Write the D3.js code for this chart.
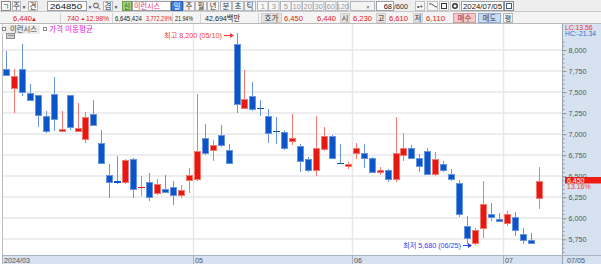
<!DOCTYPE html>
<html>
<head>
<meta charset="utf-8">
<script src="https://cdn.jsdelivr.net/npm/d3@7"></script>
<style>
html, body { margin: 0; padding: 0; background: #fff; overflow: hidden; }
svg { display: block; font-family: "Liberation Sans", "Noto Sans CJK KR", sans-serif; }
</style>
</head>
<body>
<script>
// daily candles, 2024/03/27 - 2024/07/05 (68 bars)
var dates = [
  '03/27','03/28','03/29',
  '04/01','04/02','04/03','04/04','04/05','04/08','04/09','04/11','04/12',
  '04/15','04/16','04/17','04/18','04/19','04/22','04/23','04/24','04/25','04/26','04/29','04/30',
  '05/02','05/03','05/07','05/08','05/09','05/10','05/13','05/14','05/16','05/17',
  '05/20','05/21','05/22','05/23','05/24','05/27','05/28','05/29','05/30','05/31',
  '06/03','06/04','06/05','06/07','06/10','06/11','06/12','06/13','06/14',
  '06/17','06/18','06/19','06/20','06/21','06/24','06/25','06/26','06/27','06/28',
  '07/01','07/02','07/03','07/04','07/05'
];
var opens = [
  7770,7540,7770,7490,7460,7220,7480,7030,7460,7030,6930,7240,
  6900,6520,6440,6420,6710,6360,6430,6290,6350,6370,6270,6440,
  6450,6950,6800,6990,6810,8070,7300,7450,7310,7220,
  7040,7030,6910,6860,6710,6560,6810,6980,6660,6610,
  6760,6780,6720,6540,6570,6450,6740,6840,6720,
  6800,6510,6650,6530,6420,5910,5690,5870,6050,5990,
  5930,6020,5810,5740,6230
];
var highs = [
  7990,7770,8070,7600,7470,7270,7680,7280,7470,7370,7260,7400,
  7050,6650,6740,6710,6720,6500,6540,6470,6520,6440,6390,6600,
  7480,7120,6930,7110,6880,8200,7760,7620,7400,7300,
  7200,7050,7240,6880,6730,7220,7080,6990,6880,6670,
  6900,6880,6730,6610,6590,7200,7010,6870,6760,
  6840,6790,6680,6590,6460,6030,5880,6440,6180,6060,
  6090,6070,5890,5830,6610
];
var lows = [
  7690,7250,7450,7390,7080,7010,7040,7020,7050,7020,6890,7100,
  6650,6240,6410,6410,6240,6260,6200,6280,6300,6160,6240,6300,
  6440,6750,6680,6850,6640,7250,7300,7280,7220,6900,
  6880,6810,6870,6550,6550,6500,6800,6710,6640,6590,
  6710,6600,6540,6510,6430,6430,6680,6700,6550,
  6510,6500,6550,6440,6020,5700,5680,5770,5970,5950,
  5910,5790,5690,5690,6110
];
var closes = [
  7690,7690,7490,7390,7220,7030,7170,7060,7070,7070,7200,7100,
  6650,6420,6420,6690,6340,6370,6240,6410,6300,6260,6340,6510,
  6800,6760,6870,6860,6640,7350,7420,7290,7300,7000,
  7030,6820,6950,6670,6560,6830,6980,6710,6640,6640,
  6830,6710,6540,6570,6460,6780,6840,6700,6610,
  6520,6700,6560,6450,6040,5750,5860,6170,6000,5960,
  6050,5850,5730,5700,6440
];

// axis labels
var priceTicks = [5750, 6000, 6250, 6500, 6750, 7000, 7250, 7500, 7750, 8000];
var monthDates = ['03/27', '05/02', '06/03', '07/01'];
var monthLabels = ['2024/03', '05', '06', '07'];
var lastDateLabel = '07/05';

// annotations
var hiIndex = 29, hiText = '최고 8,200 (05/10)';
var loIndex = 59, loText = '최저 5,680 (06/25)';
var tagPrice = 6450, tagText = '6,450', tagPct = '13.16%';

var W = 601, H = 264;
var RED = '#e8170f', RED_LT = '#f27a72', BLUE = '#0c55c8', BLUE_LT = '#6796e0';
var AXIS_BG = '#d6e2ef', GRID = '#e7e7e7';

var svg = d3.select('body').append('svg')
    .attr('width', W)
    .attr('height', H);

svg.append('rect').attr('width', W).attr('height', H).attr('fill', '#fff');

// ---------- header (toolbar rows) ----------
var hdr = svg.append('g').attr('class', 'header');
hdr.append('rect').attr('x', 0).attr('y', 0).attr('width', W).attr('height', 12).attr('fill', '#eeeeee');
hdr.append('rect').attr('x', 0).attr('y', 12).attr('width', W).attr('height', 12).attr('fill', '#f4f4f4');
hdr.append('line').attr('x1', 0).attr('x2', W).attr('y1', 11.5).attr('y2', 11.5).attr('stroke', '#c9c9c9');
hdr.append('line').attr('x1', 0).attr('x2', W).attr('y1', 23.5).attr('y2', 23.5).attr('stroke', '#b9b9b9');

function box(x, w, fill, stroke, y, h) {
  return hdr.append('rect')
    .attr('x', x + 0.5).attr('y', (y === undefined ? 1 : y) + 0.5)
    .attr('width', w - 1).attr('height', (h === undefined ? 10 : h) - 1)
    .attr('fill', fill).attr('stroke', stroke);
}
function label(x, y, txt, color, size, anchor, len) {
  var t = hdr.append('text')
    .attr('x', x).attr('y', y)
    .attr('font-size', size || 7.5)
    .attr('fill', color || '#222')
    .attr('text-anchor', anchor || 'start')
    .text(txt);
  if (len) t.attr('textLength', len).attr('lengthAdjust', 'spacingAndGlyphs');
  return t;
}
function btn(x, w, txt, color) {
  box(x, w, '#f7f7f7', '#b4b8be');
  label(x + w / 2, 8.8, txt, color || '#333', 7.5, 'middle');
}

// row 1
box(1, 10, '#f7f7f7', '#8a8a8a');
label(6, 8.8, 'ㄱ', '#333', 7, 'middle');
btn(12, 9, '주');
label(24, 8.5, '▼', '#555', 5, 'middle');
btn(28, 10, '견');
box(47, 40, '#ffffff', '#9aa0a8');
label(50, 9, '264850', '#111', 7.5, 'start', 32);
label(90, 8.5, '▼', '#555', 5, 'middle');
hdr.append('circle').attr('cx', 96).attr('cy', 5.5).attr('r', 2.4).attr('fill', 'none').attr('stroke', '#555');
hdr.append('line').attr('x1', 97.8).attr('y1', 7.3).attr('x2', 100).attr('y2', 9.5).attr('stroke', '#555');
btn(103, 10, '겸');
label(116, 8.5, '▼', '#555', 5, 'middle');
box(122, 10, '#9fcf7a', '#6d9e4e');
label(127, 8.8, '신', '#2f5f18', 7, 'middle');
box(132, 39, '#ffffff', '#9aa0a8');
label(134, 8.8, '이런시스', '#e0306e', 7.5, 'start', 26);
box(171, 12, '#3f7ad8', '#2c5fb4');
label(177, 8.8, '일', '#fff', 7.5, 'middle');
[['주', 183], ['월', 195], ['년', 207], ['분', 220], ['초', 232], ['틱', 244]].forEach(function(b) {
  btn(b[1], 12, b[0]);
});
[['1', 257], ['3', 268], ['5', 280], ['10', 291], ['20', 302], ['30', 313], ['60', 325], ['120', 337]].forEach(function(b) {
  btn(b[1], 11.5, b[0], '#9a9a9a');
});
box(350, 25, '#f3f3f3', '#b4b8be');
label(368, 8.5, '▼', '#888', 5, 'middle');
box(376, 18, '#ffffff', '#9aa0a8');
label(392, 9, '68', '#111', 7.5, 'end');
label(394, 9, '/600', '#333', 7.5, 'start', 14);
// small tool icons
box(415, 10, '#f7f7f7', '#c2c2c2');
label(420, 8.6, '•+', '#333', 6.5, 'middle');
box(427, 11, '#f7f7f7', '#c2c2c2');
hdr.append('path').attr('d', 'M429,4 Q431,3 433,5 T437,7').attr('fill', 'none').attr('stroke', '#555');
box(439, 10, '#f7f7f7', '#c2c2c2');
hdr.append('rect').attr('x', 441.5).attr('y', 3.5).attr('width', 5).attr('height', 5).attr('fill', 'none').attr('stroke', '#333');
box(450, 10, '#f7f7f7', '#c2c2c2');
hdr.append('circle').attr('cx', 455).attr('cy', 6).attr('r', 2.3).attr('fill', 'none').attr('stroke', '#333').attr('stroke-width', 1.4);
box(461, 43, '#ffffff', '#9aa0a8');
label(463, 9, '2024/07/05', '#111', 7.5, 'start', 39);
box(504, 10, '#f7f7f7', '#8a8a8a');
hdr.append('rect').attr('x', 506.5).attr('y', 3.5).attr('width', 5).attr('height', 5).attr('fill', '#fff').attr('stroke', '#3a5a8a');

// row 2
label(13, 21, '6,440', RED, 7.5, 'start', 19);
label(34, 20.6, '▲', RED, 6, 'middle');
label(67, 21, '740', RED, 7.5, 'start', 12);
label(83, 20.3, '▲', RED, 4.5, 'middle');
label(86, 21, '12.98%', RED, 7.5, 'start', 23);
label(115, 21, '6,645,424', '#222', 7.5, 'start', 27);
label(146, 21, '3,772.29%', RED, 7.5, 'start', 26);
label(175, 21, '21.94%', '#222', 7.5, 'start', 18);
label(205, 21, '42,694백만', '#222', 7.5, 'start', 35);
[60, 112, 172, 200, 258].forEach(function(sx) {
  hdr.append('line').attr('x1', sx + 0.5).attr('x2', sx + 0.5).attr('y1', 13).attr('y2', 23).attr('stroke', '#d4d4d4');
});
box(261, 21, '#e3e3e3', '#cfcfcf', 13, 10);
label(271.5, 21, '호가', '#333', 7.5, 'middle');
label(284, 21, '6,450', RED, 7.5, 'start', 19);
label(317, 21, '6,440', RED, 7.5, 'start', 19);
box(340, 10, '#e3e3e3', '#cfcfcf', 13, 10);
label(345, 21, '시', '#333', 7.5, 'middle');
label(353, 21, '6,230', RED, 7.5, 'start', 19);
box(376, 10, '#e3e3e3', '#cfcfcf', 13, 10);
label(381, 21, '고', '#333', 7.5, 'middle');
label(389, 21, '6,610', RED, 7.5, 'start', 19);
box(413, 10, '#e3e3e3', '#cfcfcf', 13, 10);
label(418, 21, '저', '#333', 7.5, 'middle');
label(426, 21, '6,110', RED, 7.5, 'start', 19);
box(453, 23, '#f6c9c9', '#d79a9a', 13, 10);
label(464.5, 21, '매수', '#a02828', 7.5, 'middle');
box(478, 23, '#cadcf3', '#92aed6', 13, 10);
label(489.5, 21, '매도', '#22467e', 7.5, 'middle');
box(503, 10, '#f3f3f3', '#b4b8be', 13, 10);
label(508, 21, '평', '#333', 7, 'middle');

// ---------- scales ----------
var x = d3.scaleBand().domain(dates).range([2, 542.6]).paddingInner(0).paddingOuter(0);
var y = d3.scaleLinear().domain([5750, 8000]).range([239.3, 50]);
function cx(d) { return Math.round(x(d) + x.bandwidth() / 2); }

var bars = dates.map(function(d, i) {
  return {d: d, o: opens[i], h: highs[i], l: lows[i], c: closes[i]};
});

// ---------- plot area ----------
var plot = svg.append('g').attr('class', 'plot');

// horizontal grid
plot.selectAll('line.hgrid')
  .data(priceTicks)
  .enter().append('line')
    .attr('class', 'hgrid')
    .attr('x1', 3).attr('x2', 562)
    .attr('y1', function(d) { return Math.round(y(d)); })
    .attr('y2', function(d) { return Math.round(y(d)); })
    .attr('stroke', GRID).attr('stroke-width', 1.6);

// month lines
plot.selectAll('line.vgrid')
  .data(monthDates.slice(1))
  .enter().append('line')
    .attr('class', 'vgrid')
    .attr('x1', function(d) { return Math.round(x(d)) + 0.5; })
    .attr('x2', function(d) { return Math.round(x(d)) + 0.5; })
    .attr('y1', 24).attr('y2', 255)
    .attr('stroke', GRID).attr('stroke-width', 1.4);

// left frame line
plot.append('line').attr('x1', 2.5).attr('x2', 2.5).attr('y1', 24).attr('y2', 264).attr('stroke', '#bdbdbd');

// legend row
plot.append('rect').attr('x', 1).attr('y', 25).attr('width', 39).attr('height', 9).attr('fill', '#ececec');
plot.append('rect').attr('x', 2.5).attr('y', 27.5).attr('width', 3).attr('height', 3).attr('fill', '#fff').attr('stroke', '#888');
plot.append('text').attr('x', 10).attr('y', 32.3).attr('font-size', 7.5).attr('fill', '#444')
  .attr('textLength', 27).attr('lengthAdjust', 'spacingAndGlyphs').text('이런시스');
plot.append('rect').attr('x', 43.5).attr('y', 27.5).attr('width', 3).attr('height', 3).attr('fill', '#fff').attr('stroke', '#888');
plot.append('text').attr('x', 49).attr('y', 32.3).attr('font-size', 7.5).attr('fill', '#e020d8')
  .attr('textLength', 44).attr('lengthAdjust', 'spacingAndGlyphs').text('가격 이동평균');
// grid icon
plot.append('rect').attr('x', 6.5).attr('y', 33.5).attr('width', 8).attr('height', 5).attr('fill', '#d0d0d0').attr('stroke', '#8c8c8c');
[8.5, 10.5, 12.5].forEach(function(ix) {
  plot.append('rect').attr('x', ix).attr('y', 35).attr('width', 1).attr('height', 1).attr('fill', '#555');
});

// candles
var cand = plot.selectAll('g.candle')
  .data(bars)
  .enter().append('g')
    .attr('class', 'candle');

cand.append('line')
    .attr('x1', function(d) { return cx(d.d) + 0.5; })
    .attr('x2', function(d) { return cx(d.d) + 0.5; })
    .attr('y1', function(d) { return Math.round(y(d.h)); })
    .attr('y2', function(d) { return Math.round(y(d.l)); })
    .attr('stroke', function(d) { return d.c >= d.o ? RED_LT : BLUE_LT; })
    .attr('stroke-width', 1);

function bodyTop(d) { return Math.round(y(Math.max(d.o, d.c))); }
function bodyH(d) { return Math.max(1, Math.round(y(Math.min(d.o, d.c))) - bodyTop(d)); }

cand.append('rect')
    .attr('x', function(d) { return cx(d.d) - 3; })
    .attr('y', bodyTop)
    .attr('width', 7)
    .attr('height', bodyH)
    .attr('fill', function(d) { return d.c >= d.o ? RED_LT : BLUE_LT; });

cand.filter(function(d) { return bodyH(d) > 2; }).append('rect')
    .attr('x', function(d) { return cx(d.d) - 2; })
    .attr('y', function(d) { return bodyTop(d) + 1; })
    .attr('width', 5)
    .attr('height', function(d) { return bodyH(d) - 2; })
    .attr('fill', function(d) { return d.c >= d.o ? RED : BLUE; });

cand.filter(function(d) { return bodyH(d) <= 2; }).select('rect')
    .attr('fill', function(d) { return d.c >= d.o ? RED : BLUE; });

// high / low annotations
var hb = bars[hiIndex], lb = bars[loIndex];
var hy = Math.round(y(hb.h)) + 2, ly = Math.round(y(lb.l));
plot.append('text').attr('x', cx(hb.d) - 15).attr('y', hy + 2.5)
  .attr('text-anchor', 'end').attr('font-size', 7.2).attr('fill', '#f23c3c').text(hiText);
plot.append('line').attr('x1', cx(hb.d) - 13).attr('x2', cx(hb.d) - 5)
  .attr('y1', hy + 0.5).attr('y2', hy + 0.5).attr('stroke', '#f23c3c');
plot.append('path').attr('d', 'M' + (cx(hb.d) - 3) + ',' + (hy + 0.5) + 'l-4,-2.5v5z').attr('fill', '#f23c3c');

plot.append('text').attr('x', cx(lb.d) - 14).attr('y', ly + 2.5)
  .attr('text-anchor', 'end').attr('font-size', 7.2).attr('fill', '#2f3cf0').text(loText);
plot.append('line').attr('x1', cx(lb.d) - 12).attr('x2', cx(lb.d) - 6)
  .attr('y1', ly + 0.5).attr('y2', ly + 0.5).attr('stroke', '#2f3cf0');
plot.append('path').attr('d', 'M' + (cx(lb.d) - 3) + ',' + (ly + 0.5) + 'l-4,-2.5v5z').attr('fill', '#2f3cf0');

// ---------- right price axis ----------
svg.append('rect').attr('x', 562).attr('y', 24).attr('width', W - 562).attr('height', H - 24).attr('fill', AXIS_BG);
svg.append('line').attr('x1', 562.5).attr('x2', 562.5).attr('y1', 24).attr('y2', 264).attr('stroke', '#9aa6b4');

var minorTicks = d3.range(5600, 8300, 50).filter(function(v) { return y(v) > 38 && y(v) < 254; });
svg.append('g')
    .attr('transform', 'translate(562.5,0)')
    .call(d3.axisRight(y).tickValues(minorTicks).tickSize(2).tickFormat(''))
    .call(function(g) { g.select('.domain').remove(); })
    .selectAll('line').attr('stroke', '#8f9aa8');

var yAxis = svg.append('g')
    .attr('transform', 'translate(562.5,0)')
    .call(d3.axisRight(y).tickValues(priceTicks).tickSize(4).tickPadding(2).tickFormat(d3.format(',')));
yAxis.select('.domain').remove();
yAxis.selectAll('line').attr('stroke', '#8f9aa8');
yAxis.selectAll('text').attr('font-size', 7.2).attr('fill', '#555').attr('font-family', 'Liberation Sans, sans-serif');

svg.append('text').attr('x', 565).attr('y', 29.5).attr('font-size', 6.8).attr('fill', '#f03030').text('LC:13.56');
svg.append('text').attr('x', 565).attr('y', 35.5).attr('font-size', 6.8).attr('fill', '#2d6fd6').text('HC:-21.34');

// last price tag
var ty = Math.round(y(tagPrice));
svg.append('rect').attr('x', 565).attr('y', ty - 3).attr('width', W - 565).attr('height', 6.5).attr('fill', '#ee1c12');
svg.append('text').attr('x', 567).attr('y', ty + 2.6).attr('font-size', 7).attr('fill', '#fff').text(tagText);
svg.append('text').attr('x', 567).attr('y', ty + 9).attr('font-size', 7).attr('fill', '#f04040').text(tagPct);

// ---------- bottom date axis ----------
svg.append('rect').attr('x', 3).attr('y', 255).attr('width', 559).attr('height', 9).attr('fill', AXIS_BG);
svg.append('line').attr('x1', 3).attr('x2', W).attr('y1', 255.5).attr('y2', 255.5).attr('stroke', '#a8b4c2');

var xt = svg.append('g').attr('class', 'x-axis')
  .selectAll('g')
  .data(monthDates)
  .enter().append('g')
    .attr('transform', function(d) { return 'translate(' + (Math.round(x(d)) + 0.5) + ',0)'; });
xt.append('line').attr('y1', 255).attr('y2', 264).attr('stroke', '#a8b4c2');
xt.append('text').attr('x', 1.5).attr('y', 262.8).attr('font-size', 7.2).attr('fill', '#555')
  .text(function(d, i) { return monthLabels[i]; });

svg.append('text').attr('x', 567).attr('y', 262.8).attr('font-size', 7.2).attr('fill', '#555').text(lastDateLabel);
</script>
</body>
</html>
